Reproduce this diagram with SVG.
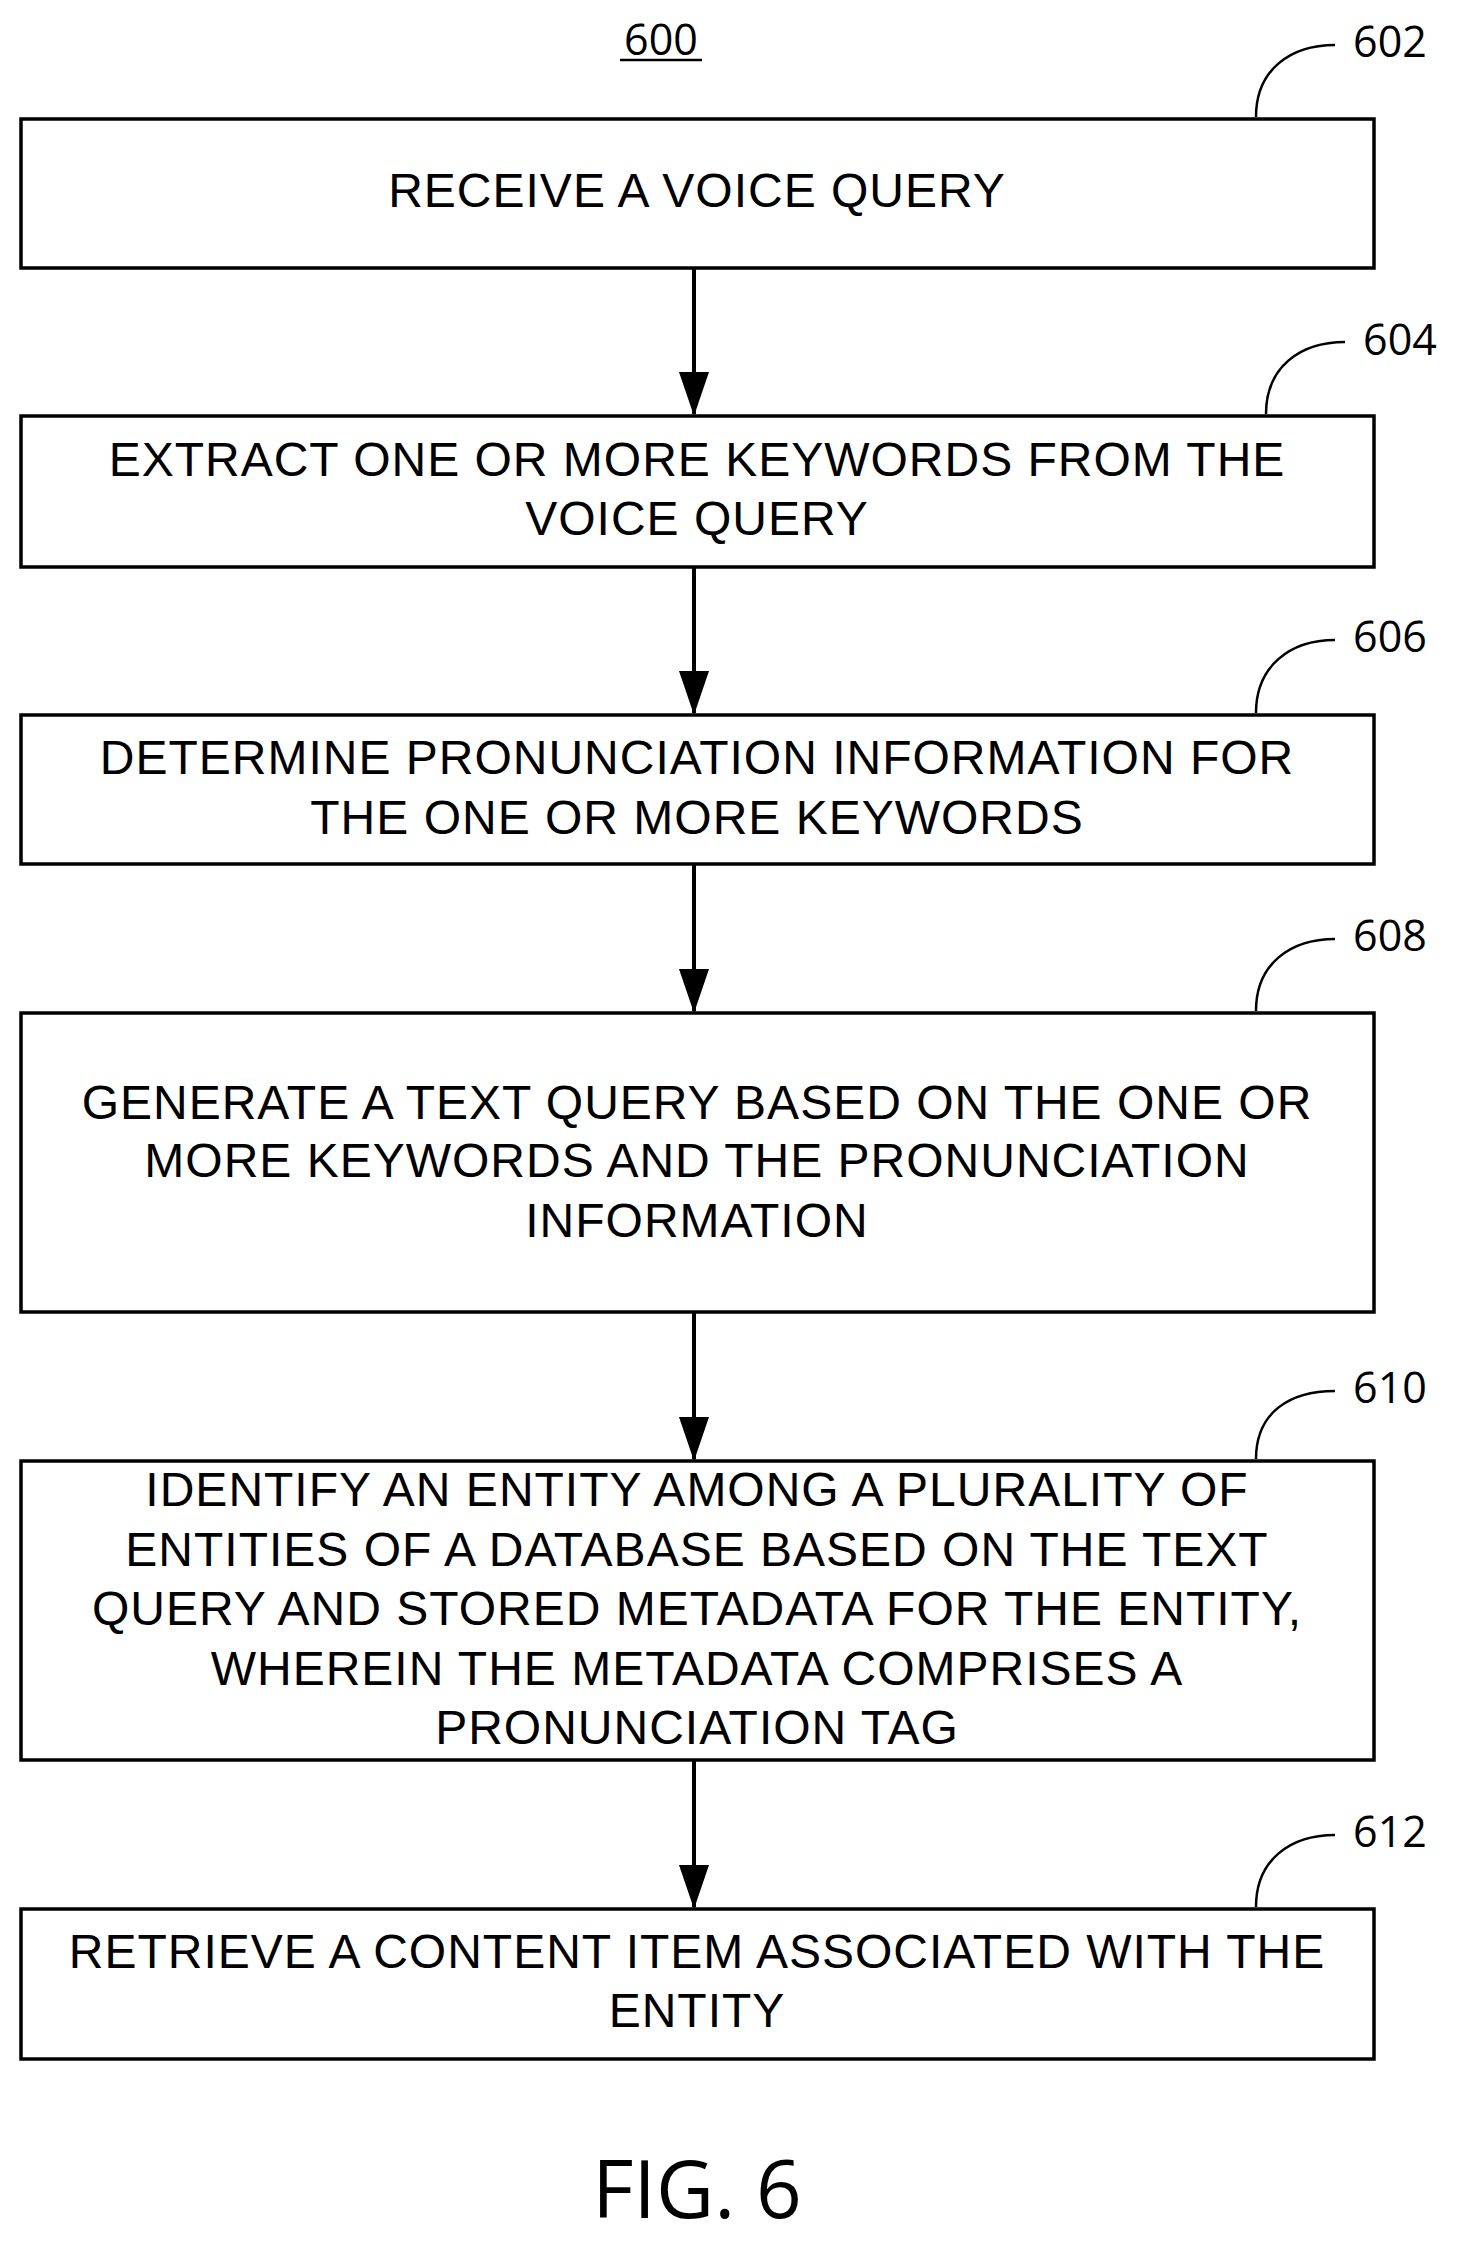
<svg xmlns="http://www.w3.org/2000/svg" width="1465" height="2255" viewBox="0 0 1465 2255">
<style>
.box{fill:#fff;stroke:#000;stroke-width:3.5}
.t{font-family:"Liberation Sans",Arial,sans-serif;font-size:48px;letter-spacing:1px;text-anchor:middle;dominant-baseline:central}
.lbl{font-family:"Open Sans","Liberation Sans",sans-serif;font-size:43px;text-anchor:middle;dominant-baseline:central}
.ln{fill:none;stroke:#000;stroke-width:2.5}
.ar{stroke:#000;stroke-width:4;marker-end:url(#a)}
</style>
<defs><marker id="a" markerWidth="44" markerHeight="30" refX="42" refY="15" orient="auto" markerUnits="userSpaceOnUse" viewBox="0 0 44 30"><path d="M0,0 L44,15 L0,30 Z"/></marker></defs>
<rect width="1465" height="2255" fill="#fff"/>
<g id="title"><text class="lbl" x="661" y="38">600</text><line x1="620" y1="60" x2="702" y2="60" stroke="#000" stroke-width="2.5"/></g>
<g id="n602"><rect class="box" x="21" y="119" width="1353" height="149"/><text class="t" x="697" y="190">RECEIVE A VOICE QUERY</text><path class="ln" d="M1256,117 C1256,70 1290,45 1335,45"/><text class="lbl" x="1390" y="40">602</text></g>
<g id="n604"><rect class="box" x="21" y="416" width="1353" height="151"/><text class="t" x="697" y="459">EXTRACT ONE OR MORE KEYWORDS FROM THE</text><text class="t" x="697" y="518">VOICE QUERY</text><path class="ln" d="M1266,414 C1266,367 1300,342 1345,342"/><text class="lbl" x="1400" y="338">604</text></g>
<g id="n606"><rect class="box" x="21" y="715" width="1353" height="149"/><text class="t" x="697" y="757">DETERMINE PRONUNCIATION INFORMATION FOR</text><text class="t" x="697" y="817">THE ONE OR MORE KEYWORDS</text><path class="ln" d="M1256,713 C1256,666 1290,640 1335,640"/><text class="lbl" x="1390" y="635">606</text></g>
<g id="n608"><rect class="box" x="21" y="1013" width="1353" height="299"/><text class="t" x="697" y="1102">GENERATE A TEXT QUERY BASED ON THE ONE OR</text><text class="t" x="697" y="1160">MORE KEYWORDS AND THE PRONUNCIATION</text><text class="t" x="697" y="1220">INFORMATION</text><path class="ln" d="M1256,1011 C1256,964 1290,939 1335,939"/><text class="lbl" x="1390" y="934">608</text></g>
<g id="n610"><rect class="box" x="21" y="1461" width="1353" height="299"/><text class="t" x="697" y="1489">IDENTIFY AN ENTITY AMONG A PLURALITY OF</text><text class="t" x="697" y="1549">ENTITIES OF A DATABASE BASED ON THE TEXT</text><text class="t" x="697" y="1608">QUERY AND STORED METADATA FOR THE ENTITY,</text><text class="t" x="697" y="1668">WHEREIN THE METADATA COMPRISES A</text><text class="t" x="697" y="1727">PRONUNCIATION TAG</text><path class="ln" d="M1256,1459 C1256,1412 1290,1391 1335,1391"/><text class="lbl" x="1390" y="1386">610</text></g>
<g id="n612"><rect class="box" x="21" y="1909" width="1353" height="150"/><text class="t" x="697" y="1951">RETRIEVE A CONTENT ITEM ASSOCIATED WITH THE</text><text class="t" x="697" y="2010">ENTITY</text><path class="ln" d="M1256,1907 C1256,1860 1290,1835 1335,1835"/><text class="lbl" x="1390" y="1830">612</text></g>
<g id="connectors">
<line class="ar" x1="694" y1="268" x2="694" y2="414"/>
<line class="ar" x1="694" y1="567" x2="694" y2="713"/>
<line class="ar" x1="694" y1="864" x2="694" y2="1011"/>
<line class="ar" x1="694" y1="1312" x2="694" y2="1459"/>
<line class="ar" x1="694" y1="1760" x2="694" y2="1907"/>
</g>
<g id="fig"><text x="697" y="2218" font-family="Open Sans, Liberation Sans, sans-serif" font-size="80" text-anchor="middle">FIG. 6</text></g>
</svg>
